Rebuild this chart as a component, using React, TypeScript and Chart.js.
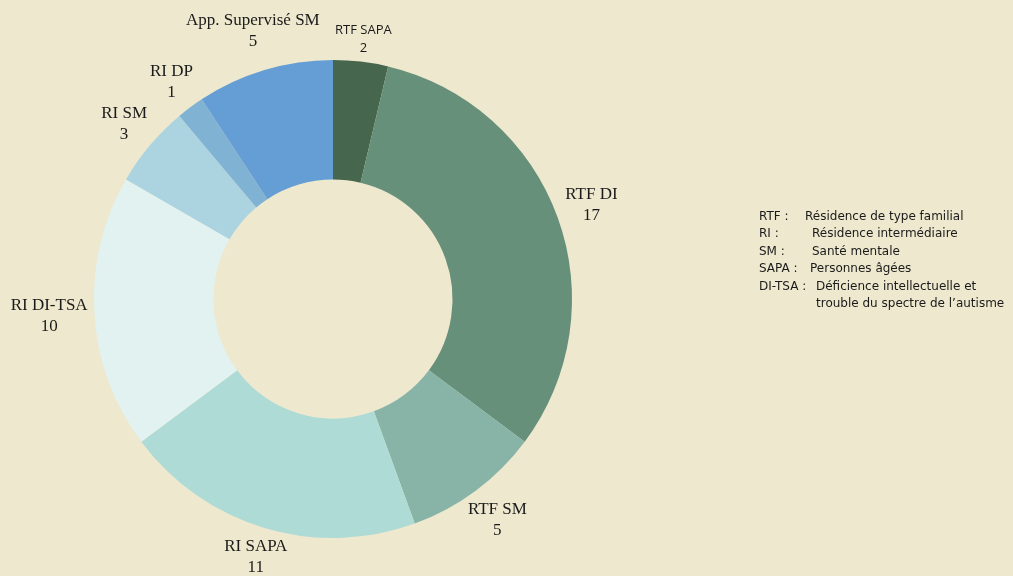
import React, { useEffect, useRef } from "react";
import { Chart, registerables } from "chart.js";

Chart.register(...registerables);

const categories = ["RTF SAPA", "RTF DI", "RTF SM", "RI SAPA", "RI DI-TSA", "RI SM", "RI DP", "App. Supervisé SM"];
const values = [2, 17, 5, 11, 10, 3, 1, 5];
const colors = ["#46664E", "#66907A", "#88B4A8", "#AEDBD6", "#E2F2F1", "#ACD4E0", "#80B2D4", "#659ED4"];
const smallLabels = ["RTF SAPA"];

const legendAbbr = ["RTF :", "RI :", "SM :", "SAPA :", "DI-TSA :", ""];
const legendText = [
  "Résidence de type familial",
  "Résidence intermédiaire",
  "Santé mentale",
  "Personnes âgées",
  "Déficience intellectuelle et",
  "trouble du spectre de l’autisme",
];
const legendIndent = [46, 53, 53, 51, 57, 57];

const BG = "#EDE8CE";

const labelPlugin = {
  id: "outLabels",
  afterDatasetsDraw(chart: any) {
    const ctx = chart.ctx;
    const meta = chart.getDatasetMeta(0);
    meta.data.forEach((arc: any, i: number) => {
      const p = arc.getProps(["x", "y", "startAngle", "endAngle", "outerRadius"], true);
      const mid = (p.startAngle + p.endAngle) / 2;
      const dx = Math.cos(mid);
      const dy = Math.sin(mid);
      const small = smallLabels.includes(categories[i]);
      const font = small ? "13px 'Open Sans', 'DejaVu Sans', sans-serif" : "17px 'Liberation Serif', serif";
      const lh = small ? 18 : 21;
      ctx.save();
      ctx.font = font;
      ctx.fillStyle = "#1a1a1a";
      ctx.textAlign = "center";
      ctx.textBaseline = "middle";
      const w = Math.max(ctx.measureText(categories[i]).width, ctx.measureText(String(values[i])).width);
      const hw = w / 2;
      const hh = lh * 0.75;
      const r = p.outerRadius + 6 + hw * Math.abs(dx) + hh * Math.abs(dy);
      const cx = p.x + dx * r;
      const cy = p.y + dy * r;
      ctx.fillText(categories[i], cx, cy - lh / 2);
      ctx.fillText(String(values[i]), cx, cy + lh / 2);
      ctx.restore();
    });
  },
};

export default function App() {
  const ref = useRef<HTMLCanvasElement>(null);
  useEffect(() => {
    document.body.style.margin = "0";
    document.body.style.background = BG;
    const chart = new Chart(ref.current!, {
      type: "doughnut",
      data: {
        labels: categories,
        datasets: [
          {
            data: values,
            backgroundColor: colors,
            borderWidth: 0,
          },
        ],
      },
      options: {
        animation: false,
        responsive: false,
        cutout: "50%",
        layout: { padding: { left: 94, right: 441, top: 60, bottom: 38 } },
        plugins: { legend: { display: false }, tooltip: { enabled: false } },
      },
      plugins: [labelPlugin],
    });
    return () => chart.destroy();
  }, []);
  return (
    <div style={{ position: "relative", width: 1013, height: 576, background: BG, overflow: "hidden" }}>
      <canvas ref={ref} width={1013} height={576} style={{ position: "absolute", left: 0, top: 0 }} />
      {legendText.map((t, i) => (
        <div
          key={i}
          style={{
            position: "absolute",
            left: 759,
            top: 208 + i * 17.4,
            font: "12px 'DejaVu Sans', sans-serif",
            color: "#1a1a1a",
            whiteSpace: "nowrap",
            lineHeight: "17px",
          }}
        >
          <span style={{ display: "inline-block", width: legendIndent[i] }}>{legendAbbr[i]}</span>
          {t}
        </div>
      ))}
    </div>
  );
}
